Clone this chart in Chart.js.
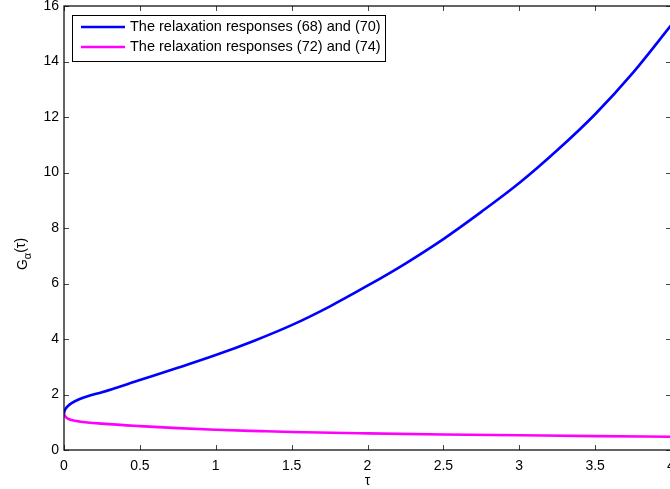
<!DOCTYPE html>
<html>
<head>
<meta charset="utf-8">
<script src="https://cdn.jsdelivr.net/npm/chart.js@4/dist/chart.umd.min.js"></script>
<style>
html,body{margin:0;padding:0;background:#fff;overflow:hidden;width:670px;height:489px;}
#wrap{position:absolute;left:0;top:0;width:680px;height:489px;}
</style>
</head>
<body>
<div id="wrap"><canvas id="c"></canvas></div>
<script>
// ---- data ----
const seriesLabels = ["The relaxation responses (68) and (70)", "The relaxation responses (72) and (74)"];
const blueX = [0, 0.003, 0.01, 0.025, 0.05, 0.1, 0.17, 0.25, 0.5, 0.75, 1, 1.25, 1.5, 1.75, 2, 2.25, 2.5, 2.75, 3, 3.25, 3.5, 3.75, 4];
const blueY = [1.32, 1.4, 1.48, 1.58, 1.69, 1.83, 1.96, 2.08, 2.52, 2.96, 3.42, 3.93, 4.5, 5.17, 5.92, 6.72, 7.6, 8.58, 9.62, 10.8, 12.1, 13.6, 15.3];
const magX = [0, 0.003, 0.01, 0.025, 0.05, 0.1, 0.25, 0.5, 0.75, 1, 1.3, 1.5, 2, 2.5, 3, 3.5, 4];
const magY = [1.32, 1.26, 1.2, 1.13, 1.08, 1.03, 0.95, 0.86, 0.79, 0.73, 0.68, 0.65, 0.6, 0.56, 0.53, 0.5, 0.48];
const xTicks = [0, 0.5, 1, 1.5, 2, 2.5, 3, 3.5, 4];
const yTicks = [0, 2, 4, 6, 8, 10, 12, 14, 16];

const FONT = "'Liberation Sans', Arial, Helvetica, sans-serif";
const pts = (xs, ys) => xs.map((x, i) => ({x: x, y: ys[i]}));

const framePlugin = {
  id: 'frame',
  afterDraw(chart) {
    const ctx = chart.ctx, a = chart.chartArea;
    const xs = chart.scales.x, ys = chart.scales.y;
    ctx.save();
    // ticks (inward) on all four sides
    ctx.strokeStyle = '#444';
    ctx.lineWidth = 1;
    const tl = 5;
    ctx.beginPath();
    xTicks.forEach(v => {
      const p = Math.round(xs.getPixelForValue(v)) + 0.5;
      ctx.moveTo(p, a.bottom); ctx.lineTo(p, a.bottom - tl);
      ctx.moveTo(p, a.top); ctx.lineTo(p, a.top + tl);
    });
    yTicks.forEach(v => {
      const p = Math.round(ys.getPixelForValue(v)) + 0.5;
      ctx.moveTo(a.left, p); ctx.lineTo(a.left + tl, p);
      ctx.moveTo(a.right, p); ctx.lineTo(a.right - tl, p);
    });
    ctx.stroke();
    // box
    ctx.strokeStyle = '#111';
    ctx.lineWidth = 1.3;
    ctx.strokeRect(a.left, a.top, a.right - a.left, a.bottom - a.top);

    // legend
    const lx = 72, ly = 15, lw = 313, lh = 46;
    ctx.fillStyle = '#fff';
    ctx.fillRect(lx, ly, lw, lh);
    ctx.strokeStyle = '#000';
    ctx.lineWidth = 1;
    ctx.strokeRect(lx + 0.5, ly + 0.5, lw, lh);
    chart.data.datasets.forEach((ds, i) => {
      const yy = 27 + i * 20;
      ctx.strokeStyle = ds.borderColor;
      ctx.lineWidth = 2.5;
      ctx.beginPath(); ctx.moveTo(81, yy); ctx.lineTo(125, yy); ctx.stroke();
      ctx.fillStyle = '#000';
      ctx.font = '14.5px ' + FONT;
      ctx.textBaseline = 'middle';
      ctx.textAlign = 'left';
      ctx.fillText(ds.label, 130, yy);
    });

    // y-axis title G_alpha(tau), rotated
    ctx.save();
    ctx.translate(27, 254);
    ctx.rotate(-Math.PI / 2);
    ctx.fillStyle = '#000';
    ctx.textBaseline = 'alphabetic';
    ctx.textAlign = 'left';
    const g = 'G', al = 'α', tt = '(τ)';
    ctx.font = '14px ' + FONT;
    const wg = ctx.measureText(g).width;
    ctx.font = '11px ' + FONT;
    const wa = ctx.measureText(al).width;
    ctx.font = '14px ' + FONT;
    const wt = ctx.measureText(tt).width;
    const total = wg + wa + wt;
    let x0 = -total / 2;
    ctx.fillText(g, x0, 0);
    ctx.font = '11px ' + FONT;
    ctx.fillText(al, x0 + wg, 4);
    ctx.font = '14px ' + FONT;
    ctx.fillText(tt, x0 + wg + wa, -2);
    ctx.restore();

    // x-axis title
    ctx.fillStyle = '#000';
    ctx.font = '14px ' + FONT;
    ctx.textAlign = 'center';
    ctx.textBaseline = 'middle';
    ctx.fillText('τ', xs.getPixelForValue(2), 481);
    ctx.restore();
  }
};

new Chart(document.getElementById('c'), {
  type: 'line',
  data: {
    datasets: [
      {label: seriesLabels[0], data: pts(blueX, blueY), borderColor: '#0000ff', borderWidth: 2.6, pointRadius: 0, cubicInterpolationMode: 'monotone', fill: false},
      {label: seriesLabels[1], data: pts(magX, magY), borderColor: '#ff00ff', borderWidth: 2.6, pointRadius: 0, cubicInterpolationMode: 'monotone', fill: false}
    ]
  },
  options: {
    responsive: true,
    maintainAspectRatio: false,
    animation: false,
    layout: {padding: {top: 6, right: 9, left: 0, bottom: 0}},
    plugins: {legend: {display: false}, tooltip: {enabled: false}},
    scales: {
      x: {
        type: 'linear', min: 0, max: 4,
        afterBuildTicks: s => { s.ticks = xTicks.map(v => ({value: v})); },
        afterFit: s => { s.height = 39; s.paddingLeft = 0; s.paddingRight = 0; },
        grid: {display: false, drawTicks: false},
        border: {display: false},
        ticks: {padding: 8, color: '#000', font: {family: FONT, size: 14}, maxRotation: 0, autoSkip: false,
                callback: v => String(v)}
      },
      y: {
        type: 'linear', min: 0, max: 16,
        afterBuildTicks: s => { s.ticks = yTicks.map(v => ({value: v})); },
        afterFit: s => { s.width = 64; s.paddingTop = 0; s.paddingBottom = 0; },
        grid: {display: false, drawTicks: false},
        border: {display: false},
        ticks: {padding: 5, color: '#000', font: {family: FONT, size: 14}, autoSkip: false,
                callback: v => String(v)}
      }
    }
  },
  plugins: [framePlugin]
});
</script>
</body>
</html>
